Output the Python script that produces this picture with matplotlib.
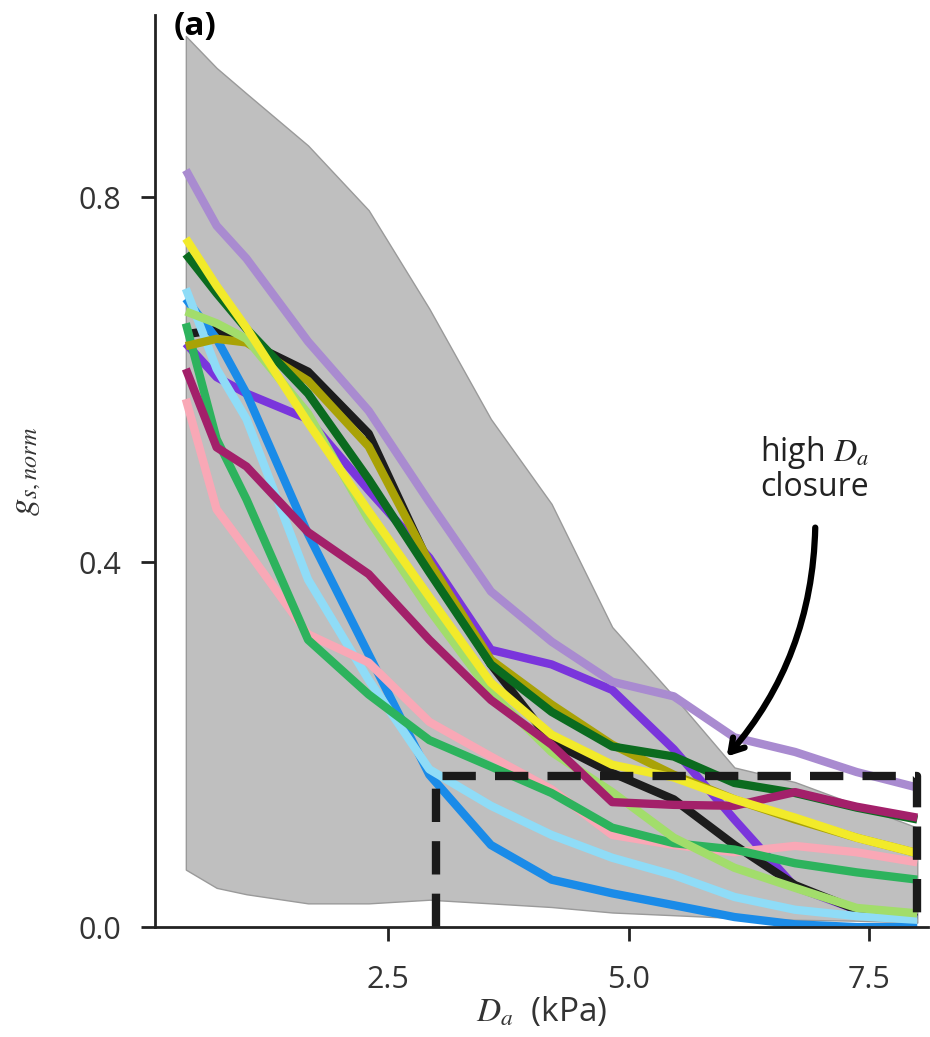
import matplotlib
matplotlib.use("Agg")
import matplotlib.pyplot as plt

plt.rcParams['font.family'] = ['Open Sans', 'DejaVu Sans']
plt.rcParams['mathtext.fontset'] = 'stix'

# D_a grid (kPa)
da = [0.4, 0.72, 1.03, 1.67, 2.3, 2.93, 3.57, 4.2, 4.83, 5.47, 6.1, 6.73, 7.37, 8.0]

# envelope of all sites
env_hi = [0.977, 0.942, 0.914, 0.857, 0.786, 0.678, 0.557, 0.464, 0.329, 0.253, 0.175, 0.159, 0.134, 0.109]
env_lo = [0.063, 0.043, 0.036, 0.026, 0.026, 0.030, 0.026, 0.022, 0.016, 0.013, 0.010, 0.008, 0.007, 0.005]

# normalised stomatal conductance per site
lavender = [0.830, 0.769, 0.733, 0.642, 0.566, 0.466, 0.368, 0.313, 0.269, 0.253, 0.208, 0.192, 0.170, 0.153]
blue = [0.689, 0.645, 0.585, 0.431, 0.299, 0.167, 0.090, 0.052, 0.037, 0.024, 0.011, 0.003, 0.0, 0.0]
light_blue = [0.700, 0.612, 0.557, 0.381, 0.271, 0.173, 0.133, 0.101, 0.076, 0.057, 0.033, 0.019, 0.012, 0.008]
pink = [0.579, 0.458, 0.414, 0.321, 0.290, 0.225, 0.187, 0.151, 0.101, 0.090, 0.082, 0.089, 0.082, 0.071]
green = [0.662, 0.535, 0.469, 0.315, 0.255, 0.205, 0.176, 0.147, 0.109, 0.092, 0.085, 0.070, 0.060, 0.052]
violet = [0.640, 0.603, 0.585, 0.557, 0.479, 0.405, 0.304, 0.288, 0.260, 0.195, 0.118, 0.044, 0.019, 0.010]
black = [0.650, 0.655, 0.642, 0.609, 0.541, 0.398, 0.288, 0.203, 0.169, 0.140, 0.090, 0.046, 0.019, 0.010]
olive = [0.637, 0.645, 0.641, 0.599, 0.527, 0.400, 0.293, 0.244, 0.200, 0.167, 0.140, 0.118, 0.098, 0.081]
dark_green = [0.738, 0.695, 0.656, 0.585, 0.491, 0.389, 0.288, 0.236, 0.198, 0.187, 0.158, 0.147, 0.131, 0.118]
light_green = [0.675, 0.662, 0.645, 0.563, 0.447, 0.348, 0.257, 0.192, 0.148, 0.098, 0.065, 0.043, 0.021, 0.015]
magenta = [0.612, 0.526, 0.505, 0.433, 0.387, 0.315, 0.249, 0.200, 0.137, 0.134, 0.133, 0.148, 0.132, 0.120]
yellow = [0.755, 0.703, 0.657, 0.553, 0.456, 0.362, 0.268, 0.211, 0.178, 0.164, 0.140, 0.120, 0.098, 0.081]

series = [
    (violet, '#7a35dc'),
    (black, '#1c1c1c'),
    (lavender, '#a98bd0'),
    (blue, '#1a8be8'),
    (light_blue, '#8fdcf7'),
    (pink, '#f9a8b6'),
    (green, '#2db35d'),
    (olive, '#a9a206'),
    (dark_green, '#0b6b1f'),
    (light_green, '#a2dd6b'),
    (magenta, '#a3206a'),
    (yellow, '#f2ea2a'),
]

# high-D_a box corners
box_x = [3.0, 3.0, 8.0, 8.0]
box_y = [0.0, 0.166, 0.166, 0.0]

fig = plt.figure(figsize=(9.3, 10.37), dpi=100)
ax = fig.add_axes([0.1667, 0.106, 0.831, 0.8795])

ax.fill_between(da, env_lo, env_hi, facecolor='#bfbfbf', edgecolor='#9a9a9a', lw=1, zorder=1)
for vals, col in series:
    ax.plot(da, vals, color=col, lw=6, solid_capstyle='butt', zorder=2)

ax.plot(box_x, box_y, color='#1a1a1a', lw=6, linestyle=(0, (4.0, 2.3)),
        dash_capstyle='butt', zorder=5, clip_on=False)

ax.annotate('', xy=(6.02, 0.187), xytext=(6.94, 0.438),
            arrowprops=dict(arrowstyle='->, head_length=0.9, head_width=0.55', lw=4.5,
                            color='black', connectionstyle='arc3,rad=-0.18',
                            shrinkA=0, shrinkB=0), zorder=6)
ax.text(6.93, 0.502, 'high $D_a$\nclosure', ha='center', va='center', fontsize=23,
        color='#222222', linespacing=1.0)

ax.set_xlim(0.08, 8.11)
ax.set_ylim(0, 1.0)
ax.set_xticks([2.5, 5.0, 7.5])
ax.set_xticklabels(['2.5', '5.0', '7.5'])
ax.set_yticks([0.0, 0.4, 0.8])
ax.set_yticklabels(['0.0', '0.4', '0.8'])
ax.tick_params(axis='both', labelsize=22, length=10, width=2, color='#222222', labelcolor='#333333')
ax.tick_params(axis='x', pad=17)
ax.tick_params(axis='y', pad=14)
for s in ['top', 'right']:
    ax.spines[s].set_visible(False)
for s in ['left', 'bottom']:
    ax.spines[s].set_linewidth(2)
    ax.spines[s].set_color('#222222')
    ax.spines[s].set_zorder(6)

ax.set_xlabel('$D_a$  (kPa)', fontsize=24, color='#333333', labelpad=0)
ax.set_ylabel('$g_{s,norm}$', fontsize=25, color='#333333', labelpad=26)

fig.text(195 / 930, 1 - 27 / 1037, '(a)', fontsize=24, fontweight='bold', ha='center', va='center')

fig.savefig('out.png', dpi=100)
